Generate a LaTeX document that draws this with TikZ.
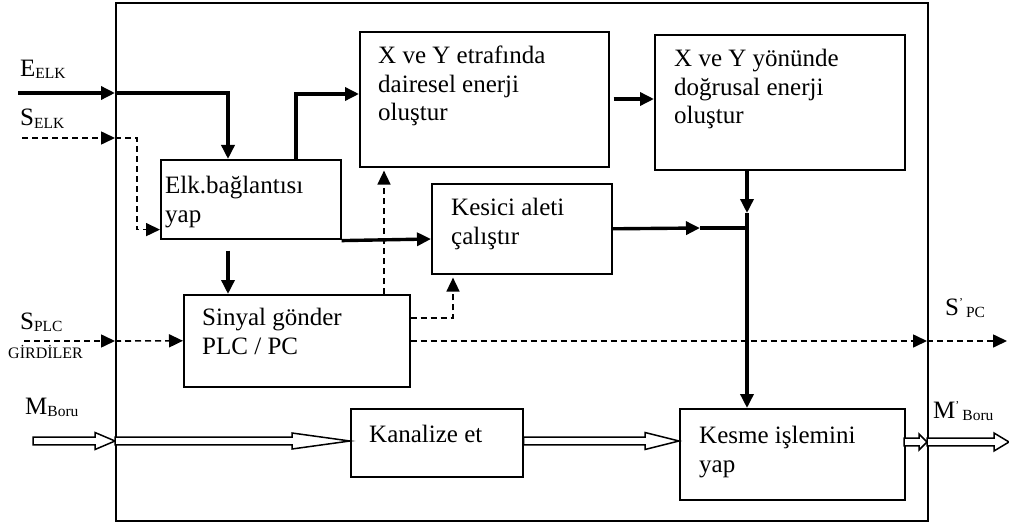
\documentclass[tikz,border=0pt]{standalone}
\usepackage{fontspec}
\setmainfont{Liberation Serif}
\usetikzlibrary{arrows.meta,calc}
\newcommand\hollowarr[4]{%
  \draw[hollow] let \p1=#1, \p2=#2 in
    (\x1,\y1+3.8pt) -- (\x2-#3,\y1+3.8pt) -- (\x2-#3,\y1+#4) -- (\x2,\y1)
    -- (\x2-#3,\y1-#4) -- (\x2-#3,\y1-3.8pt) -- (\x1,\y1-3.8pt) -- cycle;}
\newcommand\subtxt[1]{\raisebox{-2pt}{\fontsize{15.5}{15.5}\selectfont #1}}
\newcommand\primetxt{\raisebox{9pt}{\fontsize{12}{12}\selectfont '}}
\tikzset{
  box/.style={draw, line width=1.6pt, inner sep=0pt, anchor=north west},
  txt/.style={anchor=north west, inner sep=0pt, align=left, font=\fontsize{25}{28.5}\selectfont},
  lbl/.style={anchor=base west, inner sep=0pt, font=\fontsize{25}{28}\selectfont},
  thk/.style={line width=3.4pt, -{Triangle[length=14pt,width=13pt]}},
  thkline/.style={line width=3.4pt},
  dsh/.style={line width=1.6pt, dash pattern=on 6pt off 4pt, -{Triangle[length=14pt,width=13pt]}},
  hollow/.style={draw, line width=1.5pt, fill=white}
}
\begin{document}
\begin{tikzpicture}[x=1pt,y=-1pt]
\useasboundingbox (0,0) rectangle (1009,524);
% outer system boundary
\node[box, minimum width=812pt, minimum height=518pt] (outer) at (115,2) {};
% function boxes
\node[box, minimum width=180pt, minimum height=79pt]  (elk)    at (160,159) {};
\node[box, minimum width=249pt, minimum height=135pt] (xdai)   at (359,31)  {};
\node[box, minimum width=250pt, minimum height=135pt] (xdog)   at (654,34)  {};
\node[box, minimum width=180pt, minimum height=90pt]  (kesici) at (431,183) {};
\node[box, minimum width=226pt, minimum height=92pt]  (sinyal) at (183,294) {};
\node[box, minimum width=172pt, minimum height=68pt]  (kan)    at (350,408) {};
\node[box, minimum width=225pt, minimum height=91pt]  (kesme)  at (679,408) {};
% box texts
\node[txt] (elkT)    at (165,176) {Elk.bağlantısı\\yap};
\node[txt] (xdaiT)   at (378,46)  {X ve Y etrafında\\dairesel enerji\\oluştur};
\node[txt] (xdogT)   at (674,49)  {X ve Y yönünde\\doğrusal enerji\\oluştur};
\node[txt] (kesiciT) at (451,198) {Kesici aleti\\çalıştır};
\node[txt] (sinyalT) at (202,308) {Sinyal gönder\\PLC / PC};
\node[txt] (kanT)    at (369,425) {Kanalize et};
\node[txt] (kesmeT)  at (699,426) {Kesme işlemini\\yap};
% outside labels
\node[lbl] (lE)  at (20,77)  {E\subtxt{ELK}};
\node[lbl] (lS)  at (20,126) {S\subtxt{ELK}};
\node[lbl] (lP)  at (20,329) {S\subtxt{PLC}};
\node[lbl, font=\fontsize{16}{16}\selectfont] (lG) at (8,358) {GİRDİLER};
\node[lbl] (lM)  at (25,414) {M\subtxt{Boru}};
\node[lbl] (lSo) at (945,315) {S\primetxt\hspace{3pt}\subtxt{PC}};
\node[lbl] (lMo) at (933,418) {M\primetxt\hspace{3pt}\subtxt{Boru}};
% free ends and border points
\coordinate (ein) at (18,93);   \coordinate (eb) at (115,93);
\coordinate (sin) at (22,138);  \coordinate (sb) at (115,138);
\coordinate (pin) at (24,341);  \coordinate (pb) at (115,341);
\coordinate (sob) at (927,341); \coordinate (sout) at (1007,341);
\coordinate (mb0) at (33,441);  \coordinate (mb1) at (115,441);
\coordinate (mk) at (904,442);  \coordinate (mo) at (927,442); \coordinate (mend) at (1009,442);
\coordinate (jm) at (747,213);  \coordinate (jn) at (747,228); \coordinate (jk) at (700,228);
% energy (thick)
\draw[thk] (ein) -- (eb);
\draw[thk] (eb) -| ([xshift=68pt]elk.north west);
\draw[thk] ([xshift=136pt]elk.north west) |- ([yshift=-63pt]xdai.north west);
\draw[thk] ([xshift=4pt,yshift=-68pt]xdai.north east) -- ([yshift=-65pt]xdog.north west);
\draw[thk] ([xshift=93pt]xdog.south west) -- (jm);
\draw[thk] (jm) -- ([xshift=68pt]kesme.north west);
\draw[thk] (kesici.east) -- (jk);
\draw[thkline] (jk) -- (jn);
\draw[thk] ([yshift=-1pt]elk.south east) -- ([yshift=-56pt]kesici.north west);
\draw[thk] ([xshift=68pt,yshift=-11pt]elk.south west) -- ([xshift=45pt]sinyal.north west);
% signals (dashed)
\draw[dsh] (sin) -- (sb);
\draw[dsh] (sb) -| ([xshift=-23pt,yshift=10pt]elk.south west) -- ([yshift=10pt]elk.south west);
\draw[dsh] (pin) -- (pb);
\draw[dsh] (pb) -- (sinyal.west);
\draw[dsh] ([xshift=201pt]sinyal.north west) -- ([xshift=25pt,yshift=-3pt]xdai.south west);
\draw[dsh] ([yshift=-24pt]sinyal.north east) -| ([xshift=22pt,yshift=-3pt]kesici.south west);
\draw[dsh] ([yshift=-47pt]sinyal.north east) -- (sob);
\draw[dsh] (sob) -- (sout);
% material (hollow)
\hollowarr{(mb0)}{(mb1)}{20pt}{8.5pt}
\hollowarr{(mb1)}{(kan.west)}{58pt}{8pt}
\hollowarr{(kan.east |- mb1)}{(kesme.west)}{34pt}{8.5pt}
\hollowarr{(mk)}{(mo)}{8pt}{8pt}
\hollowarr{(mo)}{(mend)}{15pt}{9pt}
\end{tikzpicture}
\end{document}
